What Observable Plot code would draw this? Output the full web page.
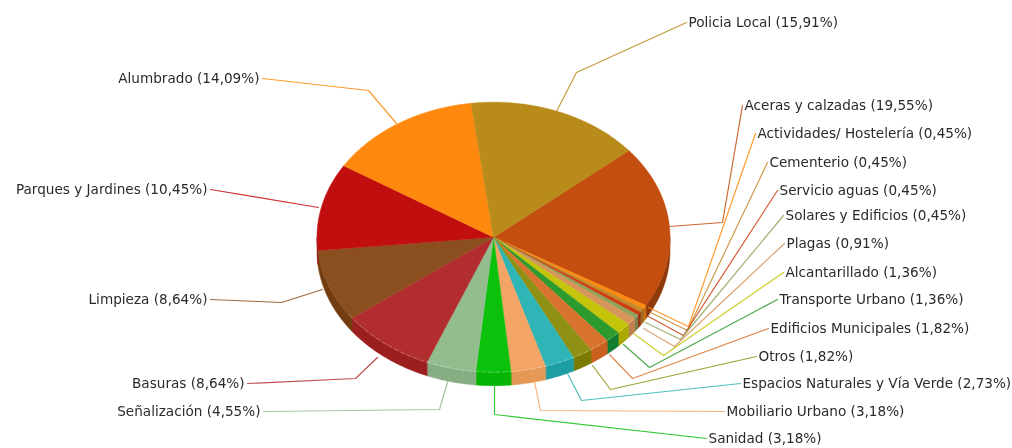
<!DOCTYPE html>
<html>
<head>
<meta charset="utf-8">
<style>
html,body{margin:0;padding:0;background:#fff;overflow:hidden}
svg{display:block;filter:blur(0.35px)}
</style>
<script src="https://cdn.jsdelivr.net/npm/d3@7"></script>
<script src="https://cdn.jsdelivr.net/npm/@observablehq/plot@0.6"></script>
</head>
<body>
<div id="chart"></div>
<script>
// Data, clockwise from the Aceras slice
const categories = ["Aceras y calzadas","Actividades/ Hostelería","Cementerio","Servicio aguas","Solares y Edificios","Plagas","Alcantarillado","Transporte Urbano","Edificios Municipales","Otros","Espacios Naturales y Vía Verde","Mobiliario Urbano","Sanidad","Señalización","Basuras","Limpieza","Parques y Jardines","Alumbrado","Policia Local"];
const values = [19.55,0.45,0.45,0.45,0.45,0.91,1.36,1.36,1.82,1.82,2.73,3.18,3.18,4.55,8.64,8.64,10.45,14.09,15.91];
const topColors = ["#c44e10","#ff8a0d","#c58a2a","#cc3d12","#8fa35a","#d8955a","#c4c40a","#2c9a2c","#d97430","#8f9114","#2fb5b5","#f4a566","#0cc10c","#93bc8f","#b22e2e","#8b4f1f","#c10e0e","#ff880f","#b88b1a"];
const sideColors = ["#8f3a0a","#c96a08","#9a6c20","#9c2e0c","#708048","#c07e4e","#a9a900","#127c2f","#c9601f","#7a7a00","#1d9ea3","#e39855","#05b405","#86ad83","#9c1f1f","#733c10","#910a0a","#c96a0a","#8f6c14"];

// Layout of the pie and the leader lines, in picture pixels
const pie = {cx: 493.0, cy: 236.7, rx: 176.5, ry: 135, depth: 13.5, start: 50};
const leaders = [
  [[669,226],[722,222],[742,105]],
  [[648,307],[688,326],[755,133]],
  [[650,312],[687,330],[767,162]],
  [[648,316],[683,335],[777,190]],
  [[645,322],[680,339],[783,215]],
  [[643,328],[674,346],[784,243]],
  [[633,333],[663,355],[783,272]],
  [[623,344],[649,367],[777,299]],
  [[609,354],[632,378],[768,328]],
  [[592,365],[610,389],[756,356]],
  [[567,373],[581,400],[740,383]],
  [[532,372],[540,410],[724,411]],
  [[494,386],[494,414],[706,438]],
  [[449,375],[439,409],[263,411]],
  [[377,357],[355,378],[247,383]],
  [[322,289],[281,302],[210,299]],
  [[318,207],[210,189]],
  [[396,123],[368,90],[262,78]],
  [[556,111],[576,72],[686,22]]
];
const leftSide = new Set(["Señalización","Basuras","Limpieza","Parques y Jardines","Alumbrado"]);

// Build geometry from the values
const total = d3.sum(values);
const rad = d => d * Math.PI / 180;
const px = a => pie.cx + pie.rx * Math.sin(rad(a));
const py = a => pie.cy - pie.ry * Math.cos(rad(a));
const range = (a, b) => {
  const n = Math.max(1, Math.ceil((b - a) / 0.5));
  return d3.range(n + 1).map(i => a + (b - a) * i / n);
};
let cum = pie.start;
const slices = categories.map((name, i) => {
  const a0 = cum, a1 = cum + values[i] / total * 360;
  cum = a1;
  return {name, value: values[i], a0, a1, top: topColors[i], side: sideColors[i], leader: leaders[i]};
});
const topPts = slices.flatMap(s => [
  {name: s.name, fill: s.top, x: pie.cx, y: pie.cy},
  ...range(s.a0, s.a1).map(a => ({name: s.name, fill: s.top, x: px(a), y: py(a)}))
]);
const sidePts = slices.flatMap(s => {
  const a0 = Math.max(s.a0, 90), a1 = Math.min(s.a1, 270);
  if (a1 <= a0) return [];
  const arc = range(a0, a1);
  return [
    ...arc.map(a => ({name: s.name, fill: s.side, x: px(a), y: py(a)})),
    ...arc.reverse().map(a => ({name: s.name, fill: s.side, x: px(a), y: py(a) + pie.depth}))
  ];
});
const rimPts = range(125, 235).map(a => ({x: px(a), y: py(a)}));
const leaderPts = slices.flatMap(s => s.leader.map(([x, y]) => ({name: s.name, stroke: s.top, x, y})));
const labels = slices.map(s => {
  const end = s.leader[s.leader.length - 1];
  const left = leftSide.has(s.name);
  return {
    text: `${s.name} (${s.value.toFixed(2).replace(".", ",")}%)`,
    x: end[0] + (left ? -3 : 2),
    y: end[1],
    anchor: left ? "end" : "start"
  };
});

const font = {fontSize: 13.6, fontFamily: "'DejaVu Sans'", fill: "#2a2a2a"};
const chart = Plot.plot({
  width: 1012, height: 448,
  margin: 0,
  x: {domain: [0, 1012], range: [0, 1012], axis: null},
  y: {domain: [0, 448], range: [0, 448], axis: null},
  color: {type: "identity"},
  style: {background: "#fff"},
  marks: [
    Plot.line(sidePts, {x: "x", y: "y", z: "name", fill: "fill", stroke: "fill", strokeWidth: 0.5, curve: "linear-closed"}),
    Plot.line(leaderPts, {x: "x", y: "y", z: "name", stroke: "stroke", strokeWidth: 1.2, strokeOpacity: 0.85, curve: "linear"}),
    Plot.line(topPts, {x: "x", y: "y", z: "name", fill: "fill", stroke: "fill", strokeWidth: 0.5, curve: "linear-closed"}),
    Plot.line(rimPts, {x: "x", y: "y", stroke: "#fff", strokeWidth: 0.8, strokeOpacity: 0.35, strokeDasharray: "4,3"}),
    Plot.text(labels.filter(d => d.anchor === "start"), {x: "x", y: "y", text: "text", textAnchor: "start", ...font}),
    Plot.text(labels.filter(d => d.anchor === "end"), {x: "x", y: "y", text: "text", textAnchor: "end", ...font})
  ]
});
document.getElementById("chart").append(chart);
</script>
</body>
</html>
